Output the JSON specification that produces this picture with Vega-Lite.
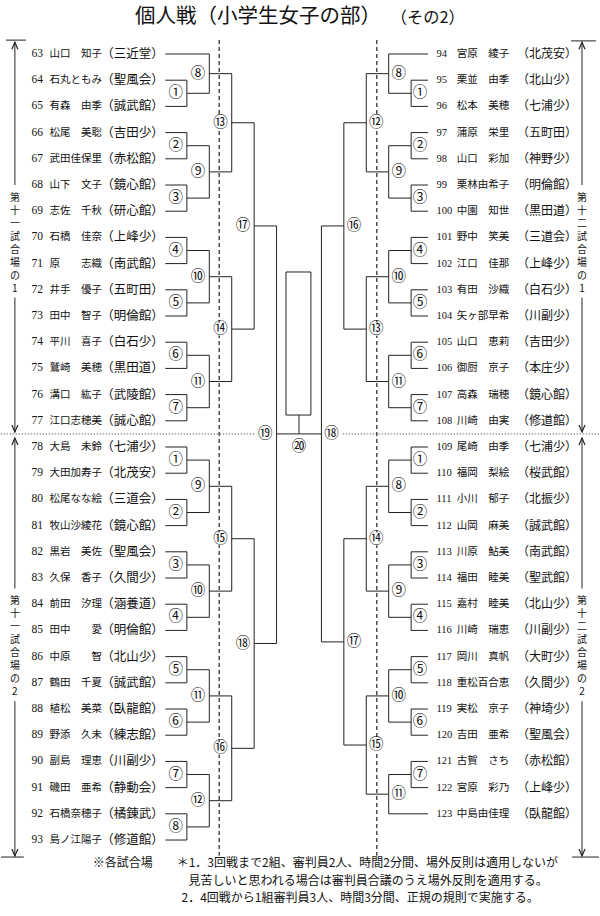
{
  "$schema": "https://vega.github.io/schema/vega-lite/v6.json",
  "width": 600,
  "height": 916,
  "autosize": {"type": "fit", "contains": "padding"},
  "padding": 0,
  "background": "white",
  "config": {"view": {"stroke": null}, "axis": {"disable": true}},
  "data": {"values": [{}]},
  "datasets": {
    "players": [
      {"s":"L","r":0,"no":"63","nm":"山口　知子","cl":"（三近堂）","e":-5.96,"j":-4},
      {"s":"L","r":1,"no":"64","nm":"石丸ともみ","cl":"（聖風会）","e":-5.96,"j":-5},
      {"s":"L","r":2,"no":"65","nm":"有森　由季","cl":"（誠武館）","e":-5.96,"j":-5},
      {"s":"L","r":3,"no":"66","nm":"松尾　美聡","cl":"（吉田少）","e":-5.96,"j":-5},
      {"s":"L","r":4,"no":"67","nm":"武田佳保里","cl":"（赤松館）","e":-5.96,"j":-5},
      {"s":"L","r":5,"no":"68","nm":"山下　文子","cl":"（鏡心館）","e":-5.96,"j":-5},
      {"s":"L","r":6,"no":"69","nm":"志佐　千秋","cl":"（研心館）","e":-5.96,"j":-5},
      {"s":"L","r":7,"no":"70","nm":"石橋　佳奈","cl":"（上峰少）","e":-5.96,"j":-5},
      {"s":"L","r":8,"no":"71","nm":"原　　志織","cl":"（南武館）","e":-5.96,"j":-5},
      {"s":"L","r":9,"no":"72","nm":"井手　優子","cl":"（五町田）","e":-5.96,"j":-5},
      {"s":"L","r":10,"no":"73","nm":"田中　智子","cl":"（明倫館）","e":-5.96,"j":-5},
      {"s":"L","r":11,"no":"74","nm":"平川　喜子","cl":"（白石少）","e":-5.96,"j":-5},
      {"s":"L","r":12,"no":"75","nm":"鷲崎　美穂","cl":"（黒田道）","e":-5.96,"j":-5},
      {"s":"L","r":13,"no":"76","nm":"溝口　紘子","cl":"（武陵館）","e":-5.96,"j":-5},
      {"s":"L","r":14,"no":"77","nm":"江口志穂美","cl":"（誠心館）","e":-5.96,"j":-5},
      {"s":"L","r":15,"no":"78","nm":"大島　未鈴","cl":"（七浦少）","e":-5.96,"j":-5},
      {"s":"L","r":16,"no":"79","nm":"大田加寿子","cl":"（北茂安）","e":-5.96,"j":-5},
      {"s":"L","r":17,"no":"80","nm":"松尾なな絵","cl":"（三道会）","e":-5.96,"j":-5},
      {"s":"L","r":18,"no":"81","nm":"牧山沙綾花","cl":"（鏡心館）","e":-5.96,"j":-5},
      {"s":"L","r":19,"no":"82","nm":"黒岩　美佐","cl":"（聖風会）","e":-5.96,"j":-5},
      {"s":"L","r":20,"no":"83","nm":"久保　香子","cl":"（久間少）","e":-5.96,"j":-5},
      {"s":"L","r":21,"no":"84","nm":"前田　汐理","cl":"（涵養道）","e":-5.96,"j":-5},
      {"s":"L","r":22,"no":"85","nm":"田中　　愛","cl":"（明倫館）","e":-5.96,"j":-5},
      {"s":"L","r":23,"no":"86","nm":"中原　　智","cl":"（北山少）","e":-5.96,"j":-5},
      {"s":"L","r":24,"no":"87","nm":"鶴田　千夏","cl":"（誠武館）","e":-5.96,"j":-5},
      {"s":"L","r":25,"no":"88","nm":"植松　美菜","cl":"（臥龍館）","e":-5.96,"j":-5},
      {"s":"L","r":26,"no":"89","nm":"野添　久未","cl":"（練志館）","e":-5.96,"j":-5},
      {"s":"L","r":27,"no":"90","nm":"副島　理恵","cl":"（川副少）","e":-5.96,"j":-5},
      {"s":"L","r":28,"no":"91","nm":"磯田　亜希","cl":"（静動会）","e":-5.96,"j":-5},
      {"s":"L","r":29,"no":"92","nm":"石橋奈穂子","cl":"（橘錬武）","e":-5.96,"j":-5},
      {"s":"L","r":30,"no":"93","nm":"島ノ江陽子","cl":"（修道館）","e":-5.96,"j":-5},
      {"s":"R","r":0,"no":"94","nm":"宮原　綾子","cl":"（北茂安）","e":5.75,"j":4},
      {"s":"R","r":1,"no":"95","nm":"栗並　由季","cl":"（北山少）","e":5.75,"j":5},
      {"s":"R","r":2,"no":"96","nm":"松本　美穂","cl":"（七浦少）","e":5.75,"j":5},
      {"s":"R","r":3,"no":"97","nm":"蒲原　栄里","cl":"（五町田）","e":5.75,"j":5},
      {"s":"R","r":4,"no":"98","nm":"山口　彩加","cl":"（神野少）","e":5.75,"j":5},
      {"s":"R","r":5,"no":"99","nm":"栗林由希子","cl":"（明倫館）","e":5.75,"j":5},
      {"s":"R","r":6,"no":"100","nm":"中園　知世","cl":"（黒田道）","e":5.75,"j":5},
      {"s":"R","r":7,"no":"101","nm":"野中　笑美","cl":"（三道会）","e":5.75,"j":5},
      {"s":"R","r":8,"no":"102","nm":"江口　佳那","cl":"（上峰少）","e":5.75,"j":5},
      {"s":"R","r":9,"no":"103","nm":"有田　沙織","cl":"（白石少）","e":5.75,"j":5},
      {"s":"R","r":10,"no":"104","nm":"矢ヶ部早希","cl":"（川副少）","e":5.75,"j":5},
      {"s":"R","r":11,"no":"105","nm":"山口　恵莉","cl":"（吉田少）","e":5.75,"j":5},
      {"s":"R","r":12,"no":"106","nm":"御厨　京子","cl":"（本庄少）","e":5.75,"j":5},
      {"s":"R","r":13,"no":"107","nm":"高森　瑞穂","cl":"（鏡心館）","e":5.75,"j":5},
      {"s":"R","r":14,"no":"108","nm":"川崎　由実","cl":"（修道館）","e":5.75,"j":5},
      {"s":"R","r":15,"no":"109","nm":"尾崎　由季","cl":"（七浦少）","e":5.75,"j":5},
      {"s":"R","r":16,"no":"110","nm":"福岡　梨絵","cl":"（桜武館）","e":5.75,"j":5},
      {"s":"R","r":17,"no":"111","nm":"小川　郁子","cl":"（北振少）","e":5.75,"j":5},
      {"s":"R","r":18,"no":"112","nm":"山岡　麻美","cl":"（誠武館）","e":5.75,"j":5},
      {"s":"R","r":19,"no":"113","nm":"川原　鮎美","cl":"（南武館）","e":5.75,"j":5},
      {"s":"R","r":20,"no":"114","nm":"福田　睦美","cl":"（聖武館）","e":5.75,"j":5},
      {"s":"R","r":21,"no":"115","nm":"嘉村　睦美","cl":"（北山少）","e":5.75,"j":5},
      {"s":"R","r":22,"no":"116","nm":"川崎　瑞恵","cl":"（川副少）","e":5.75,"j":5},
      {"s":"R","r":23,"no":"117","nm":"岡川　真帆","cl":"（大町少）","e":5.75,"j":5},
      {"s":"R","r":24,"no":"118","nm":"重松百合恵","cl":"（久間少）","e":5.75,"j":5},
      {"s":"R","r":25,"no":"119","nm":"実松　京子","cl":"（神埼少）","e":5.75,"j":5},
      {"s":"R","r":26,"no":"120","nm":"吉田　亜希","cl":"（聖風会）","e":5.75,"j":5},
      {"s":"R","r":27,"no":"121","nm":"古賀　さち","cl":"（赤松館）","e":5.75,"j":5},
      {"s":"R","r":28,"no":"122","nm":"宮原　彩乃","cl":"（上峰少）","e":5.75,"j":5},
      {"s":"R","r":29,"no":"123","nm":"中島由佳理","cl":"（臥龍館）","e":5.75,"j":4}
    ],
    "matches": [
      {"m":"①","c":-5,"a":1,"b":2,"mid":1.5,"n":-4,"lx":-5.5},
      {"m":"②","c":-5,"a":3,"b":4,"mid":3.5,"n":-4,"lx":-5.5},
      {"m":"③","c":-5,"a":5,"b":6,"mid":5.5,"n":-4,"lx":-5.5},
      {"m":"④","c":-5,"a":7,"b":8,"mid":7.5,"n":-4,"lx":-5.5},
      {"m":"⑤","c":-5,"a":9,"b":10,"mid":9.5,"n":-4,"lx":-5.5},
      {"m":"⑥","c":-5,"a":11,"b":12,"mid":11.5,"n":-4,"lx":-5.5},
      {"m":"⑦","c":-5,"a":13,"b":14,"mid":13.5,"n":-4,"lx":-5.5},
      {"m":"⑧","c":-4,"a":0,"b":1.5,"mid":0.75,"n":-3,"lx":-4.5},
      {"m":"⑨","c":-4,"a":3.5,"b":5.5,"mid":4.5,"n":-3,"lx":-4.5},
      {"m":"⑩","c":-4,"a":7.5,"b":9.5,"mid":8.5,"n":-3,"lx":-4.5},
      {"m":"⑪","c":-4,"a":11.5,"b":13.5,"mid":12.5,"n":-3,"lx":-4.5},
      {"m":"⑬","c":-3,"a":0.75,"b":4.5,"mid":2.625,"n":-2,"lx":-3.5},
      {"m":"⑭","c":-3,"a":8.5,"b":12.5,"mid":10.5,"n":-2,"lx":-3.5},
      {"m":"⑰","c":-2,"a":2.625,"b":10.5,"mid":6.5625,"n":-1,"lx":-2.5},
      {"m":"①","c":-5,"a":15,"b":16,"mid":15.5,"n":-4,"lx":-5.5},
      {"m":"②","c":-5,"a":17,"b":18,"mid":17.5,"n":-4,"lx":-5.5},
      {"m":"③","c":-5,"a":19,"b":20,"mid":19.5,"n":-4,"lx":-5.5},
      {"m":"④","c":-5,"a":21,"b":22,"mid":21.5,"n":-4,"lx":-5.5},
      {"m":"⑤","c":-5,"a":23,"b":24,"mid":23.5,"n":-4,"lx":-5.5},
      {"m":"⑥","c":-5,"a":25,"b":26,"mid":25.5,"n":-4,"lx":-5.5},
      {"m":"⑦","c":-5,"a":27,"b":28,"mid":27.5,"n":-4,"lx":-5.5},
      {"m":"⑧","c":-5,"a":29,"b":30,"mid":29.5,"n":-4,"lx":-5.5},
      {"m":"⑨","c":-4,"a":15.5,"b":17.5,"mid":16.5,"n":-3,"lx":-4.5},
      {"m":"⑩","c":-4,"a":19.5,"b":21.5,"mid":20.5,"n":-3,"lx":-4.5},
      {"m":"⑪","c":-4,"a":23.5,"b":25.5,"mid":24.5,"n":-3,"lx":-4.5},
      {"m":"⑫","c":-4,"a":27.5,"b":29.5,"mid":28.5,"n":-3,"lx":-4.5},
      {"m":"⑮","c":-3,"a":16.5,"b":20.5,"mid":18.5,"n":-2,"lx":-3.5},
      {"m":"⑯","c":-3,"a":24.5,"b":28.5,"mid":26.5,"n":-2,"lx":-3.5},
      {"m":"⑱","c":-2,"a":18.5,"b":26.5,"mid":22.5,"n":-1,"lx":-2.5},
      {"m":"⑲","c":-1,"a":6.5625,"b":22.5,"mid":14.5,"n":0,"lx":-1.5},
      {"m":"①","c":5,"a":1,"b":2,"mid":1.5,"n":4,"lx":5.4},
      {"m":"②","c":5,"a":3,"b":4,"mid":3.5,"n":4,"lx":5.4},
      {"m":"③","c":5,"a":5,"b":6,"mid":5.5,"n":4,"lx":5.4},
      {"m":"④","c":5,"a":7,"b":8,"mid":7.5,"n":4,"lx":5.4},
      {"m":"⑤","c":5,"a":9,"b":10,"mid":9.5,"n":4,"lx":5.4},
      {"m":"⑥","c":5,"a":11,"b":12,"mid":11.5,"n":4,"lx":5.4},
      {"m":"⑦","c":5,"a":13,"b":14,"mid":13.5,"n":4,"lx":5.4},
      {"m":"⑧","c":4,"a":0,"b":1.5,"mid":0.75,"n":3,"lx":4.45},
      {"m":"⑨","c":4,"a":3.5,"b":5.5,"mid":4.5,"n":3,"lx":4.45},
      {"m":"⑩","c":4,"a":7.5,"b":9.5,"mid":8.5,"n":3,"lx":4.45},
      {"m":"⑪","c":4,"a":11.5,"b":13.5,"mid":12.5,"n":3,"lx":4.45},
      {"m":"⑫","c":3,"a":0.75,"b":4.5,"mid":2.625,"n":2,"lx":3.45},
      {"m":"⑬","c":3,"a":8.5,"b":12.5,"mid":10.5,"n":2,"lx":3.45},
      {"m":"⑯","c":2,"a":2.625,"b":10.5,"mid":6.5625,"n":1,"lx":2.45},
      {"m":"①","c":5,"a":15,"b":16,"mid":15.5,"n":4,"lx":5.4},
      {"m":"②","c":5,"a":17,"b":18,"mid":17.5,"n":4,"lx":5.4},
      {"m":"③","c":5,"a":19,"b":20,"mid":19.5,"n":4,"lx":5.4},
      {"m":"④","c":5,"a":21,"b":22,"mid":21.5,"n":4,"lx":5.4},
      {"m":"⑤","c":5,"a":23,"b":24,"mid":23.5,"n":4,"lx":5.4},
      {"m":"⑥","c":5,"a":25,"b":26,"mid":25.5,"n":4,"lx":5.4},
      {"m":"⑦","c":5,"a":27,"b":28,"mid":27.5,"n":4,"lx":5.4},
      {"m":"⑧","c":4,"a":15.5,"b":17.5,"mid":16.5,"n":3,"lx":4.45},
      {"m":"⑨","c":4,"a":19.5,"b":21.5,"mid":20.5,"n":3,"lx":4.45},
      {"m":"⑩","c":4,"a":23.5,"b":25.5,"mid":24.5,"n":3,"lx":4.45},
      {"m":"⑪","c":4,"a":27.5,"b":29,"mid":28.25,"n":3,"lx":4.45},
      {"m":"⑭","c":3,"a":16.5,"b":20.5,"mid":18.5,"n":2,"lx":3.45},
      {"m":"⑮","c":3,"a":24.5,"b":28.25,"mid":26.375,"n":2,"lx":3.45},
      {"m":"⑰","c":2,"a":18.5,"b":26.375,"mid":22.4375,"n":1,"lx":2.45},
      {"m":"⑱","c":1,"a":6.5625,"b":22.4375,"mid":14.5,"n":0,"lx":1.45},
      {"m":"⑳","c":0,"a":13.78,"b":14.5,"mid":15.0,"n":0,"lx":0}
    ],
    "guides": [
      {"x":-3.56,"a":-0.53,"b":30.6,"k":"dash"},
      {"x":3.47,"a":-0.53,"b":30.6,"k":"dash"},
      {"x":-12.67,"a":-0.45,"b":5.0,"k":"solid"},
      {"x":-12.67,"a":9.3,"b":14.43,"k":"solid"},
      {"x":-12.67,"a":14.66,"b":20.4,"k":"solid"},
      {"x":-12.67,"a":24.7,"b":30.61,"k":"solid"},
      {"x":12.62,"a":-0.45,"b":5.0,"k":"solid"},
      {"x":12.62,"a":9.3,"b":14.43,"k":"solid"},
      {"x":12.62,"a":14.66,"b":20.4,"k":"solid"},
      {"x":12.62,"a":24.7,"b":30.61,"k":"solid"}
    ],
    "ticks": [
      {"x":-13.07,"x2":-12.18,"y":-0.53,"k":"solid"},
      {"x":12.13,"x2":13.24,"y":-0.5,"k":"solid"},
      {"x":-13.29,"x2":-12.27,"y":30.65,"k":"solid"},
      {"x":12.18,"x2":13.38,"y":30.65,"k":"solid"},
      {"x":-13.3,"x2":-1.95,"y":14.5,"k":"dot"},
      {"x":1.95,"x2":13.4,"y":14.5,"k":"dot"}
    ],
    "arrows": [
      {"x":-12.67,"y":-0.45,"d":"up"},
      {"x":-12.67,"y":14.43,"d":"down"},
      {"x":-12.67,"y":14.66,"d":"up"},
      {"x":-12.67,"y":30.61,"d":"down"},
      {"x":12.62,"y":-0.45,"d":"up"},
      {"x":12.62,"y":14.43,"d":"down"},
      {"x":12.62,"y":14.66,"d":"up"},
      {"x":12.62,"y":30.61,"d":"down"}
    ],
    "arenas": [
      {"x":-12.67,"y":5.5,"t":"第"},{"x":-12.67,"y":6.0,"t":"十"},{"x":-12.67,"y":6.49,"t":"一"},{"x":-12.67,"y":6.99,"t":"試"},
      {"x":-12.67,"y":7.48,"t":"合"},{"x":-12.67,"y":7.98,"t":"場"},{"x":-12.67,"y":8.48,"t":"の"},{"x":-12.67,"y":8.97,"t":"1"},
      {"x":-12.67,"y":20.88,"t":"第"},{"x":-12.67,"y":21.38,"t":"十"},{"x":-12.67,"y":21.87,"t":"一"},{"x":-12.67,"y":22.37,"t":"試"},
      {"x":-12.67,"y":22.86,"t":"合"},{"x":-12.67,"y":23.36,"t":"場"},{"x":-12.67,"y":23.86,"t":"の"},{"x":-12.67,"y":24.35,"t":"2"},
      {"x":12.62,"y":5.5,"t":"第"},{"x":12.62,"y":6.0,"t":"十"},{"x":12.62,"y":6.49,"t":"二"},{"x":12.62,"y":6.99,"t":"試"},
      {"x":12.62,"y":7.48,"t":"合"},{"x":12.62,"y":7.98,"t":"場"},{"x":12.62,"y":8.48,"t":"の"},{"x":12.62,"y":8.97,"t":"1"},
      {"x":12.62,"y":20.88,"t":"第"},{"x":12.62,"y":21.38,"t":"十"},{"x":12.62,"y":21.87,"t":"二"},{"x":12.62,"y":22.37,"t":"試"},
      {"x":12.62,"y":22.86,"t":"合"},{"x":12.62,"y":23.36,"t":"場"},{"x":12.62,"y":23.86,"t":"の"},{"x":12.62,"y":24.35,"t":"2"}
    ],
    "box": [{"x": -0.58, "x2": 0.53, "y": 8.32, "y2": 13.78}],
    "notes": [
      {"x": -7.31, "y": -1.41, "t": "個人戦（小学生女子の部）", "k": "title"},
      {"x": 4.09, "y": -1.38, "t": "（その2）", "k": "sub"},
      {"x": -9.2, "y": 30.88, "t": "※各試合場　　＊1．3回戦まで2組、審判員2人、時間2分間、場外反則は適用しないが", "k": "foot"},
      {"x": -4.93, "y": 31.56, "t": "見苦しいと思われる場合は審判員合議のうえ場外反則を適用する。", "k": "foot"},
      {"x": -5.24, "y": 32.21, "t": "2．4回戦から1組審判員3人、時間3分間、正規の規則で実施する。", "k": "foot"}
    ]
  },
  "layer": [
    {
      "data": {"name": "guides"},
      "transform": [{"filter": "datum.k === 'dash'"}],
      "mark": {"type": "rule", "stroke": "#222", "strokeWidth": 1.2, "strokeDash": [4, 3]},
      "encoding": {
        "x": {"field": "x", "type": "quantitative", "scale": {"domain": [-13.289, 13.378], "nice": false, "zero": false}},
        "y": {"field": "a", "type": "quantitative", "scale": {"domain": [-2.061, 32.9], "reverse": true, "nice": false, "zero": false}},
        "y2": {"field": "b"}
      }
    },
    {
      "data": {"name": "ticks"},
      "transform": [{"filter": "datum.k === 'dot'"}],
      "mark": {"type": "rule", "stroke": "#333", "strokeWidth": 1, "strokeDash": [1, 2]},
      "encoding": {
        "x": {"field": "x", "type": "quantitative", "scale": {"domain": [-13.289, 13.378], "nice": false, "zero": false}},
        "x2": {"field": "x2"},
        "y": {"field": "y", "type": "quantitative", "scale": {"domain": [-2.061, 32.9], "reverse": true, "nice": false, "zero": false}}
      }
    },
    {
      "data": {"name": "players"},
      "mark": {"type": "rule", "stroke": "#222", "strokeWidth": 1},
      "encoding": {
        "x": {"field": "e", "type": "quantitative", "scale": {"domain": [-13.289, 13.378], "nice": false, "zero": false}},
        "x2": {"field": "j"},
        "y": {"field": "r", "type": "quantitative", "scale": {"domain": [-2.061, 32.9], "reverse": true, "nice": false, "zero": false}}
      }
    },
    {
      "data": {"name": "matches"},
      "mark": {"type": "rule", "stroke": "#222", "strokeWidth": 1},
      "encoding": {
        "x": {"field": "c", "type": "quantitative", "scale": {"domain": [-13.289, 13.378], "nice": false, "zero": false}},
        "y": {"field": "a", "type": "quantitative", "scale": {"domain": [-2.061, 32.9], "reverse": true, "nice": false, "zero": false}},
        "y2": {"field": "b"}
      }
    },
    {
      "data": {"name": "matches"},
      "transform": [{"filter": "datum.c !== 0"}],
      "mark": {"type": "rule", "stroke": "#222", "strokeWidth": 1},
      "encoding": {
        "x": {"field": "c", "type": "quantitative", "scale": {"domain": [-13.289, 13.378], "nice": false, "zero": false}},
        "x2": {"field": "n"},
        "y": {"field": "mid", "type": "quantitative", "scale": {"domain": [-2.061, 32.9], "reverse": true, "nice": false, "zero": false}}
      }
    },
    {
      "data": {"name": "box"},
      "mark": {"type": "rect", "fillOpacity": 0, "stroke": "#222", "strokeWidth": 1},
      "encoding": {
        "x": {"field": "x", "type": "quantitative", "scale": {"domain": [-13.289, 13.378], "nice": false, "zero": false}},
        "x2": {"field": "x2"},
        "y": {"field": "y", "type": "quantitative", "scale": {"domain": [-2.061, 32.9], "reverse": true, "nice": false, "zero": false}},
        "y2": {"field": "y2"}
      }
    },
    {
      "data": {"name": "matches"},
      "mark": {"type": "point", "shape": "circle", "filled": true, "fill": "white", "strokeWidth": 0, "opacity": 1, "size": 170},
      "encoding": {
        "x": {"field": "lx", "type": "quantitative", "scale": {"domain": [-13.289, 13.378], "nice": false, "zero": false}},
        "y": {"field": "mid", "type": "quantitative", "scale": {"domain": [-2.061, 32.9], "reverse": true, "nice": false, "zero": false}}
      }
    },
    {
      "data": {"name": "matches"},
      "mark": {"type": "text", "font": "Noto Sans CJK JP", "fontSize": 14.5, "fill": "#111", "align": "center", "baseline": "middle"},
      "encoding": {
        "x": {"field": "lx", "type": "quantitative", "scale": {"domain": [-13.289, 13.378], "nice": false, "zero": false}},
        "y": {"field": "mid", "type": "quantitative", "scale": {"domain": [-2.061, 32.9], "reverse": true, "nice": false, "zero": false}},
        "text": {"field": "m"}
      }
    },
    {
      "data": {"name": "players"},
      "transform": [{"filter": "datum.s === 'L'"}],
      "mark": {"type": "text", "font": "Liberation Serif", "fontSize": 11.5, "fill": "#111", "align": "left", "baseline": "middle"},
      "encoding": {
        "x": {"datum": -11.93, "type": "quantitative", "scale": {"domain": [-13.289, 13.378], "nice": false, "zero": false}},
        "y": {"field": "r", "type": "quantitative", "scale": {"domain": [-2.061, 32.9], "reverse": true, "nice": false, "zero": false}},
        "text": {"field": "no"}
      }
    },
    {
      "data": {"name": "players"},
      "transform": [{"filter": "datum.s === 'L'"}],
      "mark": {"type": "text", "font": "Noto Sans CJK JP", "fontSize": 10.5, "fill": "#111", "align": "left", "baseline": "middle"},
      "encoding": {
        "x": {"datum": -11.13, "type": "quantitative", "scale": {"domain": [-13.289, 13.378], "nice": false, "zero": false}},
        "y": {"field": "r", "type": "quantitative", "scale": {"domain": [-2.061, 32.9], "reverse": true, "nice": false, "zero": false}},
        "text": {"field": "nm"}
      }
    },
    {
      "data": {"name": "players"},
      "transform": [{"filter": "datum.s === 'L'"}],
      "mark": {"type": "text", "font": "Noto Sans CJK JP", "fontSize": 12.5, "fill": "#111", "align": "center", "baseline": "middle"},
      "encoding": {
        "x": {"datum": -7.42, "type": "quantitative", "scale": {"domain": [-13.289, 13.378], "nice": false, "zero": false}},
        "y": {"field": "r", "type": "quantitative", "scale": {"domain": [-2.061, 32.9], "reverse": true, "nice": false, "zero": false}},
        "text": {"field": "cl"}
      }
    },
    {
      "data": {"name": "players"},
      "transform": [{"filter": "datum.s === 'R'"}],
      "mark": {"type": "text", "font": "Liberation Serif", "fontSize": 10.5, "fill": "#111", "align": "left", "baseline": "middle"},
      "encoding": {
        "x": {"datum": 6.13, "type": "quantitative", "scale": {"domain": [-13.289, 13.378], "nice": false, "zero": false}},
        "y": {"field": "r", "type": "quantitative", "scale": {"domain": [-2.061, 32.9], "reverse": true, "nice": false, "zero": false}},
        "text": {"field": "no"}
      }
    },
    {
      "data": {"name": "players"},
      "transform": [{"filter": "datum.s === 'R'"}],
      "mark": {"type": "text", "font": "Noto Sans CJK JP", "fontSize": 10.5, "fill": "#111", "align": "left", "baseline": "middle"},
      "encoding": {
        "x": {"datum": 7.03, "type": "quantitative", "scale": {"domain": [-13.289, 13.378], "nice": false, "zero": false}},
        "y": {"field": "r", "type": "quantitative", "scale": {"domain": [-2.061, 32.9], "reverse": true, "nice": false, "zero": false}},
        "text": {"field": "nm"}
      }
    },
    {
      "data": {"name": "players"},
      "transform": [{"filter": "datum.s === 'R'"}],
      "mark": {"type": "text", "font": "Noto Sans CJK JP", "fontSize": 12, "fill": "#111", "align": "center", "baseline": "middle"},
      "encoding": {
        "x": {"datum": 11.06, "type": "quantitative", "scale": {"domain": [-13.289, 13.378], "nice": false, "zero": false}},
        "y": {"field": "r", "type": "quantitative", "scale": {"domain": [-2.061, 32.9], "reverse": true, "nice": false, "zero": false}},
        "text": {"field": "cl"}
      }
    },
    {
      "data": {"name": "guides"},
      "transform": [{"filter": "datum.k === 'solid'"}],
      "mark": {"type": "rule", "stroke": "#222", "strokeWidth": 1},
      "encoding": {
        "x": {"field": "x", "type": "quantitative", "scale": {"domain": [-13.289, 13.378], "nice": false, "zero": false}},
        "y": {"field": "a", "type": "quantitative", "scale": {"domain": [-2.061, 32.9], "reverse": true, "nice": false, "zero": false}},
        "y2": {"field": "b"}
      }
    },
    {
      "data": {"name": "ticks"},
      "transform": [{"filter": "datum.k === 'solid'"}],
      "mark": {"type": "rule", "stroke": "#222", "strokeWidth": 1},
      "encoding": {
        "x": {"field": "x", "type": "quantitative", "scale": {"domain": [-13.289, 13.378], "nice": false, "zero": false}},
        "x2": {"field": "x2"},
        "y": {"field": "y", "type": "quantitative", "scale": {"domain": [-2.061, 32.9], "reverse": true, "nice": false, "zero": false}}
      }
    },
    {
      "data": {"name": "arrows"},
      "mark": {"type": "point", "filled": false, "stroke": "#222", "strokeWidth": 1.2, "opacity": 1, "size": 100},
      "encoding": {
        "x": {"field": "x", "type": "quantitative", "scale": {"domain": [-13.289, 13.378], "nice": false, "zero": false}},
        "y": {"field": "y", "type": "quantitative", "scale": {"domain": [-2.061, 32.9], "reverse": true, "nice": false, "zero": false}},
        "shape": {"field": "d", "type": "nominal", "legend": null, "scale": {"domain": ["up", "down"], "range": ["M-0.6,1.4L0,0L0.6,1.4", "M-0.6,-1.4L0,0L0.6,-1.4"]}}
      }
    },
    {
      "data": {"name": "arenas"},
      "mark": {"type": "text", "font": "Noto Sans CJK JP", "fontSize": 10, "fill": "#111", "align": "center", "baseline": "middle"},
      "encoding": {
        "x": {"field": "x", "type": "quantitative", "scale": {"domain": [-13.289, 13.378], "nice": false, "zero": false}},
        "y": {"field": "y", "type": "quantitative", "scale": {"domain": [-2.061, 32.9], "reverse": true, "nice": false, "zero": false}},
        "text": {"field": "t"}
      }
    },
    {
      "data": {"name": "notes"},
      "mark": {"type": "text", "font": "Noto Sans CJK JP", "fill": "#111", "align": "left", "baseline": "middle"},
      "encoding": {
        "x": {"field": "x", "type": "quantitative", "scale": {"domain": [-13.289, 13.378], "nice": false, "zero": false}},
        "y": {"field": "y", "type": "quantitative", "scale": {"domain": [-2.061, 32.9], "reverse": true, "nice": false, "zero": false}},
        "text": {"field": "t"},
        "size": {"field": "k", "type": "nominal", "legend": null, "scale": {"domain": ["title", "sub", "foot"], "range": [20.5, 12, 10.5]}},
        "fontWeight": {"field": "k", "type": "nominal", "legend": null, "scale": {"domain": ["title", "sub", "foot"], "range": ["bold", "normal", "normal"]}}
      }
    }
  ]
}
